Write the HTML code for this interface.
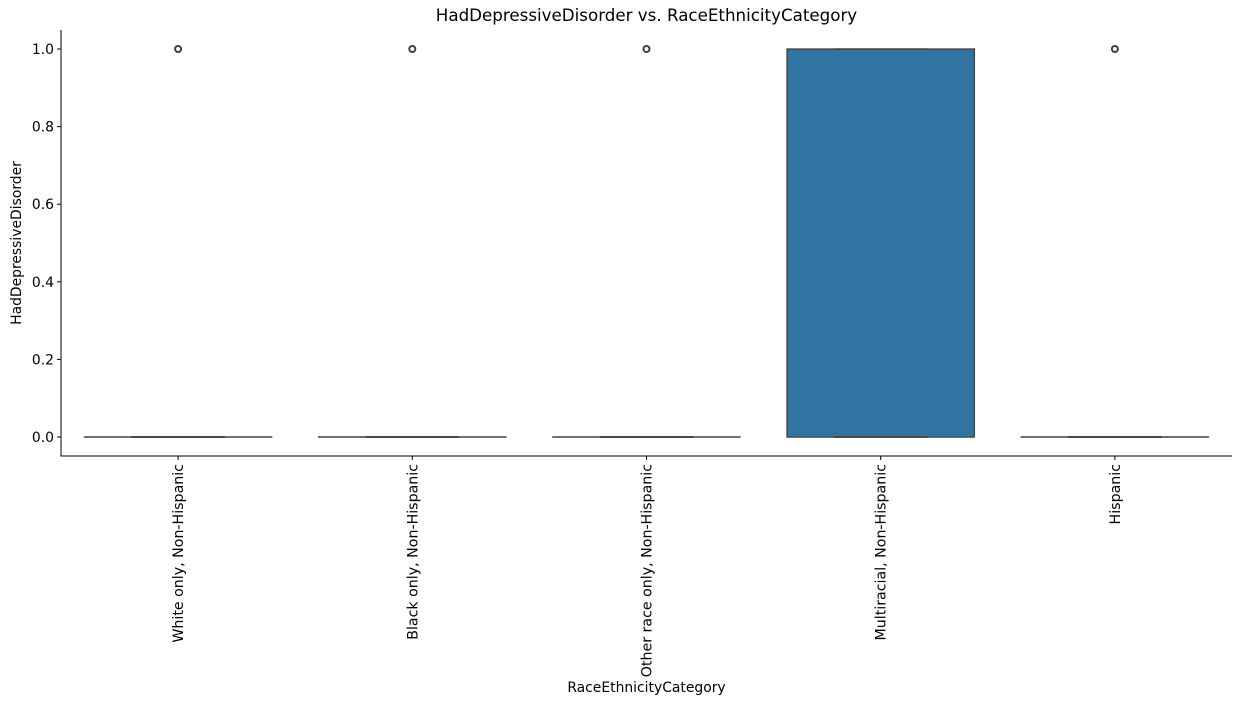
<!DOCTYPE html>
<html><head><meta charset="utf-8"><style>
body{margin:0;background:#fff;}
svg{display:block;font-family:"DejaVu Sans","Liberation Sans",sans-serif;}
</style></head><body>
<svg id="chart" width="1258" height="704" viewBox="0 0 1258 704" xmlns="http://www.w3.org/2000/svg"></svg>
<script>
const categories=["White only, Non-Hispanic","Black only, Non-Hispanic","Other race only, Non-Hispanic","Multiracial, Non-Hispanic","Hispanic"];
const q1s=[0,0,0,0,0];
const medians=[0,0,0,0,0];
const q3s=[0,0,0,1,0];
const whiskLo=[0,0,0,0,0];
const whiskHi=[0,0,0,1,0];
const outliers=[[1],[1],[1],[],[1]];
const yTicks=[0,0.2,0.4,0.6,0.8,1.0];
const yTickLabels=["0.0","0.2","0.4","0.6","0.8","1.0"];

const svg=document.getElementById('chart');
const NS="http://www.w3.org/2000/svg";
const L=61,R=1232,T=30,B=456;
const y=v=>437-v*388;
const step=(R-L)/categories.length;
const x=i=>L+step*(i+0.5);
const bw=step*0.8;
function mk(t,a,p){const e=document.createElementNS(NS,t);for(const k in a)e.setAttribute(k,a[k]);(p||svg).appendChild(e);return e;}

const title=mk('text',{x:(L+R)/2,y:21,'text-anchor':'middle','font-size':16.7,fill:'#000'});
title.textContent="HadDepressiveDisorder vs. RaceEthnicityCategory";



categories.forEach((c,i)=>{
  const g=mk('g',{});
  
  
  const cx=x(i);
  mk('line',{x1:cx,x2:cx,y1:y(whiskHi[i]),y2:y(q3s[i]),stroke:'#3f3f3f','stroke-width':1.3},g);
  mk('line',{x1:cx,x2:cx,y1:y(whiskLo[i]),y2:y(q1s[i]),stroke:'#3f3f3f','stroke-width':1.3},g);
  const h=Math.abs(y(q1s[i])-y(q3s[i]));
  mk('rect',{x:cx-bw/2,y:y(q3s[i]),width:bw,height:Math.max(h,0.01),fill:'#3274a1',stroke:'#3f3f3f','stroke-width':1.3},g);
  mk('line',{x1:cx-bw/4,x2:cx+bw/4,y1:y(whiskHi[i]),y2:y(whiskHi[i]),stroke:'#3f3f3f','stroke-width':1.3},g);
  mk('line',{x1:cx-bw/4,x2:cx+bw/4,y1:y(whiskLo[i]),y2:y(whiskLo[i]),stroke:'#3f3f3f','stroke-width':1.3},g);
  mk('line',{x1:cx-bw/2,x2:cx+bw/2,y1:y(medians[i]),y2:y(medians[i]),stroke:'#555','stroke-width':1.5},g);
  mk('line',{x1:cx-bw/4,x2:cx+bw/4,y1:y(medians[i]),y2:y(medians[i]),stroke:'#4a4a4a','stroke-width':2},g);
  outliers[i].forEach(o=>{
    const p=mk('circle',{cx:cx,cy:y(o),r:3,fill:'none',stroke:'#3f3f3f','stroke-width':2},g);
    
    
  });
  mk('line',{x1:cx,x2:cx,y1:B,y2:B+4,stroke:'#000','stroke-width':1});
  const t=mk('text',{transform:`translate(${cx+5},${B+8}) rotate(-90)`,'text-anchor':'end','font-size':14.2,fill:'#000'});
  t.textContent=c;
  
  
});

yTicks.forEach((v,i)=>{
  mk('line',{x1:L-4,x2:L,y1:y(v),y2:y(v),stroke:'#000','stroke-width':1});
  const t=mk('text',{x:L-7,y:y(v)+5,'text-anchor':'end','font-size':13.9,fill:'#000'});
  t.textContent=yTickLabels[i];
  
  
});

const ax=mk('path',{d:`M${L},${T} V${B} H${R}`,fill:'none',stroke:'#000','stroke-width':1});



const xl=mk('text',{x:(L+R)/2,y:692,'text-anchor':'middle','font-size':13.9,fill:'#000'});
xl.textContent="RaceEthnicityCategory";


const yl=mk('text',{transform:`translate(21,${(T+B)/2}) rotate(-90)`,'text-anchor':'middle','font-size':13.9,fill:'#000'});
yl.textContent="HadDepressiveDisorder";


</script>
</body></html>
